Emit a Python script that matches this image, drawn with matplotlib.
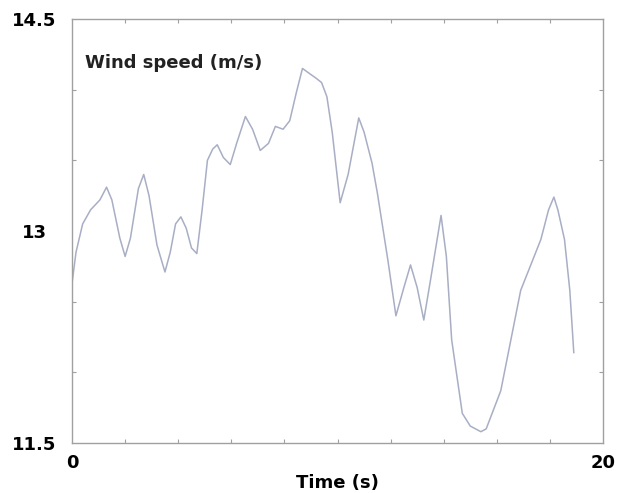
import matplotlib
matplotlib.use("Agg")
import matplotlib.pyplot as plt
from matplotlib.ticker import MultipleLocator, FixedLocator

# values
time_s = [0.0, 0.15, 0.4, 0.7, 1.05, 1.3, 1.5, 1.8, 2.0, 2.2, 2.5, 2.7, 2.9, 3.2, 3.5, 3.7,
          3.9, 4.1, 4.3, 4.5, 4.7, 4.9, 5.1, 5.3, 5.47, 5.7, 5.96, 6.2, 6.53, 6.8, 7.09,
          7.4, 7.66, 7.95, 8.2, 8.45, 8.68, 8.9, 9.2, 9.4, 9.6, 9.8, 10.1, 10.4, 10.8,
          11.0, 11.3, 11.5, 11.7, 11.9, 12.2, 12.5, 12.75, 13.0, 13.25, 13.5, 13.9, 14.1,
          14.3, 14.7, 15.0, 15.4, 15.6, 16.15, 16.9, 17.66, 17.95, 18.15, 18.3, 18.55,
          18.75, 18.9]
wind_ms = [12.63, 12.85, 13.05, 13.15, 13.22, 13.31, 13.22, 12.95, 12.82, 12.95, 13.3, 13.4,
           13.25, 12.9, 12.71, 12.85, 13.05, 13.1, 13.02, 12.88, 12.84, 13.15, 13.5, 13.58,
           13.61, 13.52, 13.47, 13.62, 13.81, 13.72, 13.57, 13.62, 13.74, 13.72, 13.78,
           13.98, 14.15, 14.12, 14.08, 14.05, 13.95, 13.7, 13.2, 13.4, 13.8, 13.7, 13.48,
           13.27, 13.03, 12.79, 12.4, 12.6, 12.76, 12.6, 12.37, 12.65, 13.11, 12.82, 12.23,
           11.71, 11.62, 11.58, 11.6, 11.87, 12.58, 12.94, 13.15, 13.24, 13.15, 12.94,
           12.58, 12.14]

frame_col = "#a0a0a0"
line_col = "#a8aec4"

fig = plt.figure(figsize=(6.21, 4.93), dpi=100)
ax = fig.add_axes([0.116, 0.1014, 0.855, 0.8601])

ax.plot(time_s, wind_ms, color=line_col, lw=1.1)

ax.set_xlim(0, 20)
ax.set_ylim(11.5, 14.5)
ax.xaxis.set_major_locator(FixedLocator([0, 20]))
ax.yaxis.set_major_locator(FixedLocator([11.5, 13, 14.5]))
ax.xaxis.set_minor_locator(MultipleLocator(2))
ax.yaxis.set_minor_locator(MultipleLocator(0.5))
ax.set_xticklabels(["0", "20"])
ax.set_yticklabels(["11.5", "13", "14.5"])

ax.tick_params(which="both", direction="in", top=True, right=True, color=frame_col,
               width=0.8)
ax.tick_params(which="major", length=0, labelsize=13)
ax.tick_params(axis="x", which="major", pad=8)
ax.tick_params(axis="y", which="major", pad=27)
ax.tick_params(which="minor", length=3)
for lab in ax.get_xticklabels() + ax.get_yticklabels():
    lab.set_fontweight("bold")
for lab in ax.get_yticklabels():
    lab.set_horizontalalignment("center")
for sp in ax.spines.values():
    sp.set_color(frame_col)
    sp.set_linewidth(1.0)

ax.set_xlabel("Time (s)", fontsize=13, fontweight="bold", labelpad=1)
ax.text(0.025, 0.885, "Wind speed (m/s)", transform=ax.transAxes, fontsize=13,
        fontweight="bold", color="#222222")

fig.savefig("out.png", dpi=100)
